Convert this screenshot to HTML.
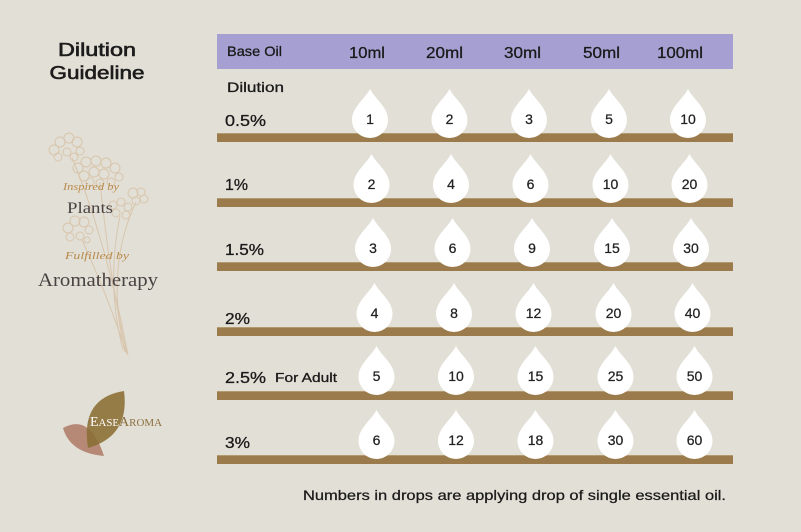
<!DOCTYPE html>
<html><head><meta charset="utf-8"><style>
html,body{margin:0;padding:0;background:#e2dfd6;}
svg{display:block;}
</style></head><body>
<svg width="801" height="532" viewBox="0 0 801 532" xmlns="http://www.w3.org/2000/svg">
<defs>
<path id="d" d="M0,0 C5,10 18,18 18,31 A18,18 0 1 1 -18,31 C-18,18 -5,10 0,0Z" fill="#ffffff"/>
</defs>
<rect width="801" height="532" fill="#e2dfd6"/>

<!-- left title -->
<g font-family="Liberation Sans, sans-serif" font-size="18" fill="#1c1c1c" stroke="#1c1c1c" stroke-width="0.6" text-anchor="middle">
<text x="97" y="56" textLength="78" lengthAdjust="spacingAndGlyphs">Dilution</text>
<text x="97" y="79" textLength="95" lengthAdjust="spacingAndGlyphs">Guideline</text>
</g>

<!-- flower illustration -->
<g fill="none" stroke="#d8c6ad" stroke-width="1">
<path d="M72,158 C90,200 112,270 128,355"/>
<path d="M100,182 C106,240 114,300 127,354"/>
<path d="M136,202 C118,240 110,290 125,352"/>
<path d="M120,216 C112,255 110,300 123,350"/>
<path d="M82,240 C98,275 114,315 126,352"/>
<g>
<circle cx="54" cy="150" r="5"/><circle cx="60" cy="142" r="5"/><circle cx="69" cy="138" r="5"/><circle cx="77" cy="142" r="5"/><circle cx="80" cy="151" r="4"/><circle cx="58" cy="157" r="4"/><circle cx="67" cy="152" r="4"/><circle cx="74" cy="157" r="4"/>
<circle cx="78" cy="168" r="5"/><circle cx="86" cy="162" r="5"/><circle cx="96" cy="161" r="5"/><circle cx="106" cy="163" r="5"/><circle cx="115" cy="168" r="5"/><circle cx="119" cy="177" r="4"/><circle cx="84" cy="176" r="5"/><circle cx="94" cy="172" r="5"/><circle cx="104" cy="174" r="5"/><circle cx="111" cy="182" r="4"/><circle cx="90" cy="182" r="4"/><circle cx="100" cy="183" r="4"/>
<circle cx="133" cy="193" r="5"/><circle cx="141" cy="192" r="4"/><circle cx="144" cy="199" r="4"/><circle cx="136" cy="201" r="4"/>
<circle cx="113" cy="205" r="4"/><circle cx="121" cy="202" r="4"/><circle cx="128" cy="207" r="4"/><circle cx="116" cy="213" r="4"/><circle cx="126" cy="215" r="4"/>
<circle cx="68" cy="228" r="5"/><circle cx="75" cy="221" r="5"/><circle cx="84" cy="222" r="5"/><circle cx="89" cy="230" r="4"/><circle cx="70" cy="237" r="4"/><circle cx="80" cy="236" r="4"/><circle cx="87" cy="240" r="3"/>
</g>
</g>

<!-- tagline -->
<g font-family="Liberation Serif, serif" text-anchor="middle">
<text x="91" y="190" font-size="11" font-style="italic" fill="#b88a4a" textLength="56" lengthAdjust="spacingAndGlyphs">Inspired by</text>
<text x="90" y="213" font-size="16" fill="#4a4242" textLength="46" lengthAdjust="spacingAndGlyphs">Plants</text>
<text x="97" y="259" font-size="11" font-style="italic" fill="#b88a4a" textLength="64" lengthAdjust="spacingAndGlyphs">Fulfilled by</text>
<text x="98" y="286" font-size="19" fill="#4a4242" textLength="120" lengthAdjust="spacingAndGlyphs">Aromatherapy</text>
</g>

<!-- logo -->
<path d="M63,428 Q90,413 104,456 Q70,453 63,428Z" fill="#b0806a" opacity="0.9"/>
<path d="M88,448 Q80,398 124,391 Q130,436 88,448Z" fill="#8a6e33" opacity="0.88"/>
<g font-family="Liberation Serif, serif" font-size="10.5">
<text x="90" y="426" fill="#ffffff" textLength="29" lengthAdjust="spacingAndGlyphs"><tspan font-size="13.5">E</tspan>ASE</text>
<text x="119" y="426" fill="#8b6f3e" textLength="43" lengthAdjust="spacingAndGlyphs"><tspan font-size="13.5">A</tspan>ROMA</text>
</g>

<!-- header -->
<rect x="217" y="34" width="516" height="35" fill="#a6a0d2"/>
<g font-family="Liberation Sans, sans-serif" fill="#1a1a1a" stroke="#1a1a1a" stroke-width="0.3">
<text x="227" y="56" font-size="14" textLength="55" lengthAdjust="spacingAndGlyphs">Base Oil</text>
<g font-size="16">
<text x="349" y="58" textLength="36" lengthAdjust="spacingAndGlyphs">10ml</text>
<text x="426" y="58" textLength="37" lengthAdjust="spacingAndGlyphs">20ml</text>
<text x="504" y="58" textLength="37" lengthAdjust="spacingAndGlyphs">30ml</text>
<text x="583" y="58" textLength="37" lengthAdjust="spacingAndGlyphs">50ml</text>
<text x="657" y="58" textLength="46" lengthAdjust="spacingAndGlyphs">100ml</text>
</g>
<text x="227" y="92" font-size="14" textLength="57" lengthAdjust="spacingAndGlyphs">Dilution</text>
</g>

<!-- bars -->
<g fill="#9b7b4b">
<rect x="217" y="133" width="516" height="9"/>
<rect x="217" y="198" width="516" height="9"/>
<rect x="217" y="262" width="516" height="9"/>
<rect x="217" y="327" width="516" height="9"/>
<rect x="217" y="391" width="516" height="9"/>
<rect x="217" y="455" width="516" height="9"/>
</g>
<g fill="#b39a6e">
<rect x="217" y="133" width="516" height="1"/>
<rect x="217" y="198" width="516" height="1"/>
<rect x="217" y="262" width="516" height="1"/>
<rect x="217" y="327" width="516" height="1"/>
<rect x="217" y="391" width="516" height="1"/>
<rect x="217" y="455" width="516" height="1"/>
</g>

<!-- row labels -->
<g font-family="Liberation Sans, sans-serif" font-size="16" fill="#1a1a1a" stroke="#1a1a1a" stroke-width="0.3">
<text x="225" y="126" textLength="41" lengthAdjust="spacingAndGlyphs">0.5%</text>
<text x="225" y="190" textLength="23" lengthAdjust="spacingAndGlyphs">1%</text>
<text x="225" y="255" textLength="39" lengthAdjust="spacingAndGlyphs">1.5%</text>
<text x="225" y="324" textLength="25" lengthAdjust="spacingAndGlyphs">2%</text>
<text x="225" y="383" textLength="41" lengthAdjust="spacingAndGlyphs">2.5%</text>
<text x="275" y="382" font-size="13" textLength="62" lengthAdjust="spacingAndGlyphs">For Adult</text>
<text x="225" y="448" textLength="25" lengthAdjust="spacingAndGlyphs">3%</text>
</g>

<!-- drops -->
<g>
<use href="#d" x="370" y="89"/><use href="#d" x="449.5" y="89"/><use href="#d" x="529" y="89"/><use href="#d" x="609" y="89"/><use href="#d" x="688" y="89"/>
<use href="#d" x="371.5" y="154"/><use href="#d" x="451" y="154"/><use href="#d" x="530.5" y="154"/><use href="#d" x="610.5" y="154"/><use href="#d" x="689.5" y="154"/>
<use href="#d" x="373" y="218"/><use href="#d" x="452.5" y="218"/><use href="#d" x="532" y="218"/><use href="#d" x="612" y="218"/><use href="#d" x="691" y="218"/>
<use href="#d" x="374.5" y="283"/><use href="#d" x="454" y="283"/><use href="#d" x="533.5" y="283"/><use href="#d" x="613.5" y="283"/><use href="#d" x="692.5" y="283"/>
<use href="#d" x="376.5" y="346"/><use href="#d" x="456" y="346"/><use href="#d" x="535.5" y="346"/><use href="#d" x="615.5" y="346"/><use href="#d" x="694.5" y="346"/>
<use href="#d" x="376.5" y="410"/><use href="#d" x="456" y="410"/><use href="#d" x="535.5" y="410"/><use href="#d" x="615.5" y="410"/><use href="#d" x="694.5" y="410"/>
</g>

<!-- drop numbers -->
<g font-family="Liberation Sans, sans-serif" font-size="14" fill="#222222" stroke="#222222" stroke-width="0.25" text-anchor="middle">
<text x="370" y="124">1</text><text x="449.5" y="124">2</text><text x="529" y="124">3</text><text x="609" y="124">5</text><text x="688" y="124">10</text>
<text x="371.5" y="189">2</text><text x="451" y="189">4</text><text x="530.5" y="189">6</text><text x="610.5" y="189">10</text><text x="689.5" y="189">20</text>
<text x="373" y="253">3</text><text x="452.5" y="253">6</text><text x="532" y="253">9</text><text x="612" y="253">15</text><text x="691" y="253">30</text>
<text x="374.5" y="318">4</text><text x="454" y="318">8</text><text x="533.5" y="318">12</text><text x="613.5" y="318">20</text><text x="692.5" y="318">40</text>
<text x="376.5" y="381">5</text><text x="456" y="381">10</text><text x="535.5" y="381">15</text><text x="615.5" y="381">25</text><text x="694.5" y="381">50</text>
<text x="376.5" y="445">6</text><text x="456" y="445">12</text><text x="535.5" y="445">18</text><text x="615.5" y="445">30</text><text x="694.5" y="445">60</text>
</g>

<!-- footnote -->
<text x="303" y="500" font-family="Liberation Sans, sans-serif" font-size="14" fill="#1a1a1a" stroke="#1a1a1a" stroke-width="0.25" textLength="423" lengthAdjust="spacingAndGlyphs">Numbers in drops are applying drop of single essential oil.</text>
</svg>
</body></html>
